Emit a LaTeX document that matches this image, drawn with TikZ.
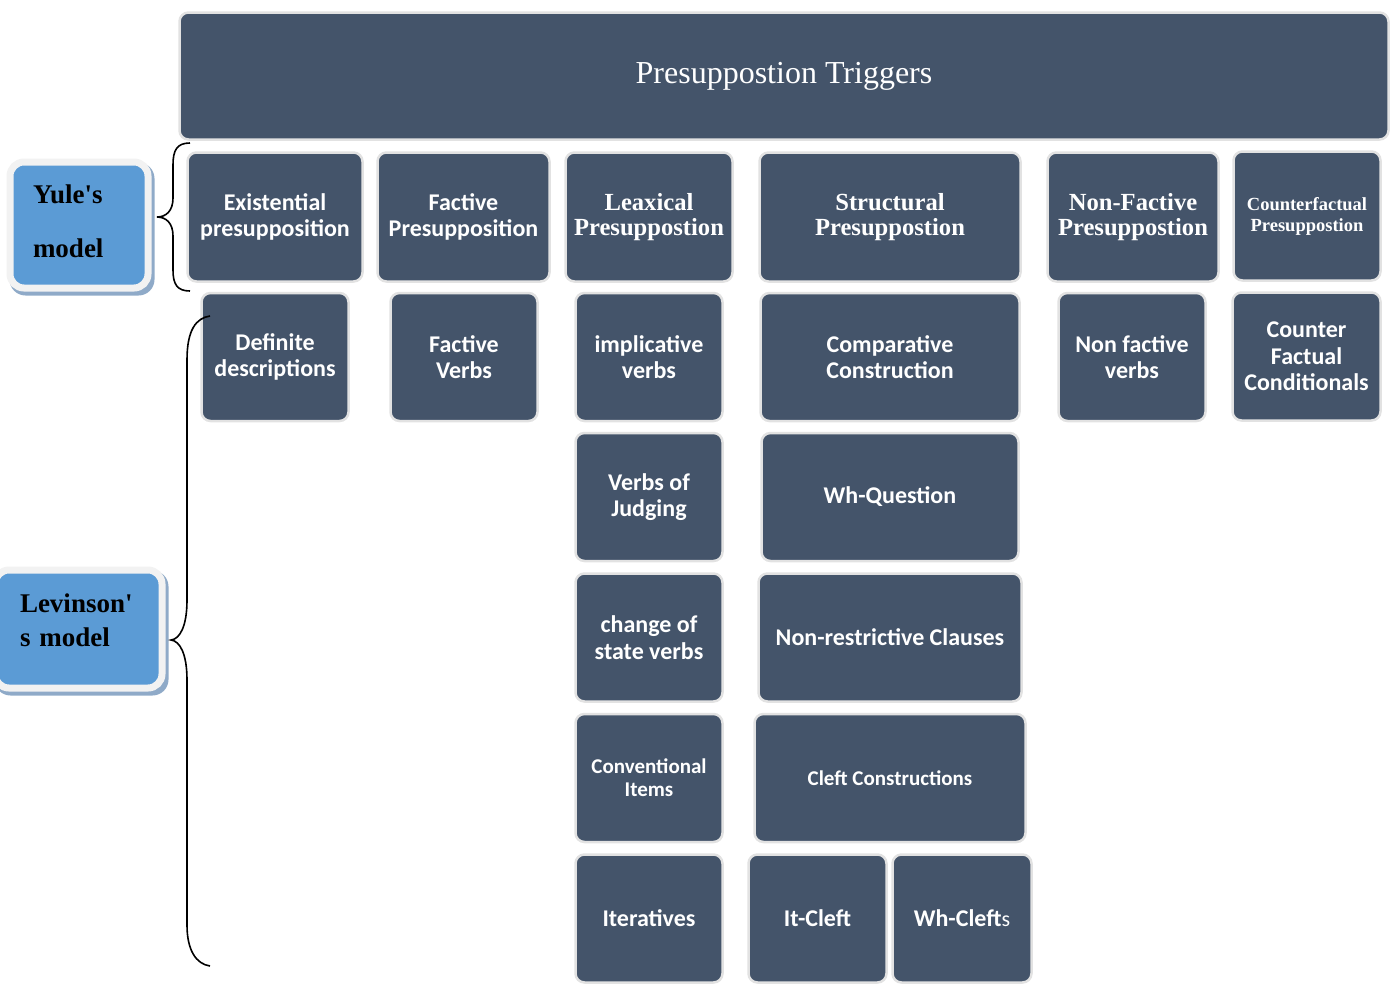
\documentclass[tikz,border=0pt]{standalone}
\usepackage{fontspec}
\setmainfont{Liberation Serif}
\newfontfamily\serifplain{Liberation Serif}[Ligatures=TeXOff]
\newfontfamily\calib{Carlito}
\definecolor{slate}{HTML}{44546A}
\definecolor{rim}{HTML}{E2E2E2}
\definecolor{sky}{HTML}{5B9BD5}
\definecolor{skyrim}{HTML}{F2F2F2}
\definecolor{skyshadow}{HTML}{8FAAC8}
\tikzset{
  box/.style={draw=rim, line width=2.5pt, fill=slate, rounded corners=9pt, text=white,
    align=center, inner sep=2pt, font=\calib\bfseries\fontsize{24}{26.5}\selectfont},
  serifbox/.style={box, font=\bfseries\fontsize{24.6}{25.5}\selectfont},
  smallbox/.style={box, font=\calib\bfseries\fontsize{21}{23}\selectfont},
  modelbox/.style={draw=skyrim, line width=7pt, fill=sky, rounded corners=14pt, text=black,
    align=left, inner sep=0pt, font=\serifplain\bfseries\fontsize{27}{34}\selectfont},
  modelshadow/.style={fill=skyshadow, rounded corners=16pt, inner sep=0pt},
  bracepath/.style={draw=black, line width=1.6pt}
}
\begin{document}
\begin{tikzpicture}[x=1pt,y=-1pt]
\useasboundingbox (0,0) rectangle (1391,989);
% title
\node[box, font=\fontsize{32}{34}\selectfont, minimum width=1209pt, minimum height=127pt] (title) at (784,76) {Presuppostion Triggers};
% row 1
\node[box, minimum width=175pt, minimum height=129pt] (exist) at (275,217) {Existential\\presupposition};
\node[box, minimum width=172pt, minimum height=129pt] (fact) at (463.5,217) {Factive\\Presupposition};
\node[serifbox, minimum width=167pt, minimum height=129pt] (lex) at (649,217) {Leaxical\\Presuppostion};
\node[serifbox, minimum width=261pt, minimum height=129pt] (struct) at (890,217) {Structural\\Presuppostion};
\node[serifbox, minimum width=171pt, minimum height=129pt] (nonfact) at (1133,217) {Non-Factive\\Presuppostion};
\node[box, font=\bfseries\fontsize{18.5}{21}\selectfont, minimum width=147pt, minimum height=129pt] (counter) at (1307,216) {Counterfactual\\Presuppostion};
% row 2
\node[box, minimum width=147pt, minimum height=128pt] (defin) at (275,357) {Definite\\descriptions};
\node[box, minimum width=147pt, minimum height=128pt] (factv) at (464,357) {Factive\\Verbs};
\node[box, minimum width=147pt, minimum height=128pt] (impl) at (649,357) {implicative\\verbs};
\node[box, minimum width=259pt, minimum height=128pt] (compar) at (890,357) {Comparative\\Construction};
\node[box, minimum width=147pt, minimum height=128pt] (nonfv) at (1132,357) {Non factive\\verbs};
\node[box, minimum width=148pt, minimum height=128pt] (cfc) at (1306.5,356.5) {Counter\\Factual\\Conditionals};
% row 3
\node[box, minimum width=147pt, minimum height=128pt] (judg) at (649,497) {Verbs of\\Judging};
\node[box, minimum width=257pt, minimum height=128pt] (whq) at (890,497) {Wh-Question};
% row 4
\node[box, minimum width=147pt, minimum height=128pt] (change) at (649,637.5) {change of\\state verbs};
\node[box, minimum width=263pt, minimum height=128pt] (nonres) at (890,637.5) {Non-restrictive Clauses};
% row 5
\node[smallbox, minimum width=147pt, minimum height=128pt] (conv) at (649,778) {Conventional\\Items};
\node[smallbox, minimum width=271pt, minimum height=128pt] (cleft) at (890,778) {Cleft Constructions};
% row 6
\node[box, minimum width=147pt, minimum height=128pt] (iter) at (649,918.5) {Iteratives};
\node[box, minimum width=138pt, minimum height=128pt] (itcleft) at (817.5,918.5) {It-Cleft};
\node[box, minimum width=139pt, minimum height=128pt] (whcleft) at (962,918.5) {Wh-Cleft{\mdseries\fontsize{22}{24}\selectfont s}};
% model boxes
\node[modelshadow, minimum width=145pt, minimum height=133pt] (yuleshadow) at (82,229) {};
\node[modelbox, minimum width=138pt, minimum height=126pt, text width=92pt] (yule) at (79,225) {Yule's\\[20pt]model\\[-26pt]\mbox{}};
\node[modelshadow, minimum width=174pt, minimum height=125pt] (levshadow) at (81.5,633) {};
\node[modelbox, minimum width=167pt, minimum height=118pt, text width=117pt] (lev) at (78.5,629) {Levinson'\\s model\\[-16pt]\mbox{}};
% braces
\coordinate (b1top) at (190,143);
\coordinate (b1tip) at (157,217);
\coordinate (b1bot) at (190,291);
\draw[bracepath] (b1top) .. controls (177,143) and (173,150) .. (173,165) -- (173,198)
  .. controls (173,211) and (166,217) .. (b1tip)
  .. controls (166,217) and (173,223) .. (173,236) -- (173,270)
  .. controls (173,284) and (177,291) .. (b1bot);
\coordinate (b2top) at (210,316);
\coordinate (b2tip) at (171,640);
\coordinate (b2bot) at (210,966);
\draw[bracepath] (b2top) .. controls (196,318) and (187,330) .. (187,360) -- (187,600)
  .. controls (187,626) and (180,639) .. (b2tip)
  .. controls (180,641) and (187,654) .. (187,680) -- (187,925)
  .. controls (187,950) and (196,964) .. (b2bot);
\end{tikzpicture}
\end{document}
